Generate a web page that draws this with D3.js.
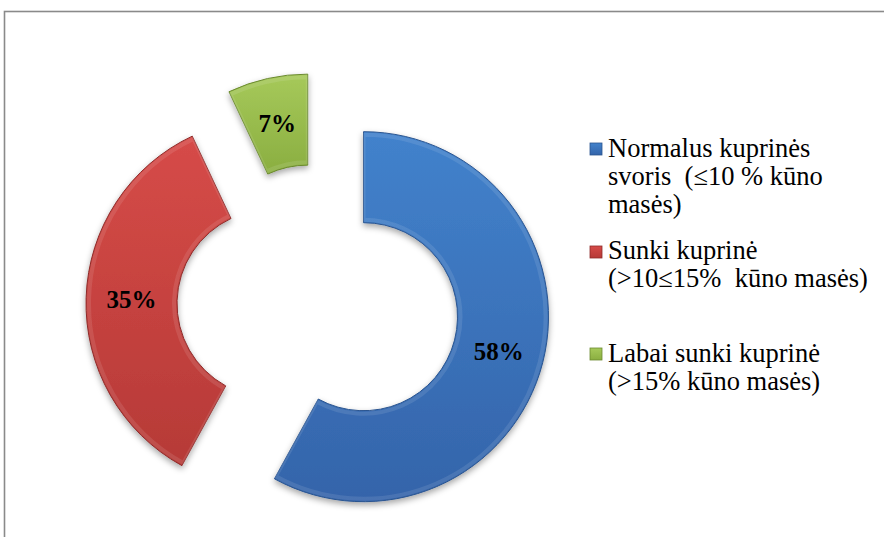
<!DOCTYPE html>
<html>
<head>
<meta charset="utf-8">
<script src="https://cdn.jsdelivr.net/npm/d3@7"></script>
<style>
  body { margin: 0; background: #fff; }
</style>
</head>
<body>
<div id="chart"></div>
<script>
var W = 884, H = 537;
var serif = "'Liberation Serif', 'Times New Roman', Times, serif";

// data
let categories = ["Normalus kuprinės svoris", "Sunki kuprinė", "Labai sunki kuprinė"];
let values = [58, 35, 7];
let valueLabels = ["58%", "35%", "7%"];
let legendLines = [
    ["Normalus kuprinės", "svoris  (≤10 % kūno", "masės)"],
    ["Sunki kuprinė", "(>10≤15%  kūno masės)"],
    ["Labai sunki kuprinė", "(>15% kūno masės)"]
];
let colorsTop = ["#4282cc", "#d64b48", "#a6c95a"];
let colorsBottom = ["#3464aa", "#b63a37", "#8aae40"];
let edgeColors = ["#2b5590", "#8e2c2a", "#6b8a30"];

var cx = 318, cy = 305, outerR = 185, innerR = 94, explode = 47;

let svg = d3.select("#chart").append("svg")
    .attr("width", W)
    .attr("height", H)

// chart border (right and bottom run off the picture)
svg.append("rect")
    .attr("x", 4.5).attr("y", 11.5)
    .attr("width", W + 20).attr("height", H + 20)
    .attr("fill", "none")
    .attr("stroke", "#8a8a8a")
    .attr("stroke-width", 1.6)

var defs = svg.append("defs")

colorsTop.forEach(function(c, i) {
    var g = defs.append("linearGradient")
        .attr("id", "grad" + i)
        .attr("x1", 0).attr("y1", 0).attr("x2", 0).attr("y2", 1)
    g.append("stop").attr("offset", "0%").attr("stop-color", c)
    g.append("stop").attr("offset", "100%").attr("stop-color", colorsBottom[i])
})

var shadow = defs.append("filter")
    .attr("id", "shadow")
    .attr("x", "-20%").attr("y", "-20%").attr("width", "140%").attr("height", "140%")
shadow.append("feDropShadow")
    .attr("dx", 0).attr("dy", 3)
    .attr("stdDeviation", 3)
    .attr("flood-color", "#000")
    .attr("flood-opacity", 0.35)

var pie = d3.pie().sort(null).value(d => d)
var arcs = pie(values)

var arc = d3.arc().innerRadius(innerR).outerRadius(outerR)
var bevel = d3.arc().innerRadius(innerR + 3).outerRadius(outerR - 3)

function offset(d) {
    var mid = (d.startAngle + d.endAngle) / 2
    return [Math.sin(mid) * explode, -Math.cos(mid) * explode]
}

var slices = svg.append("g")
    .attr("transform", "translate(" + cx + "," + cy + ")")
    .selectAll("g")
    .data(arcs)
    .enter()
    .append("g")
    .attr("transform", d => "translate(" + offset(d) + ")")

slices.append("path")
    .attr("d", arc)
    .attr("fill", (d, i) => "url(#grad" + i + ")")
    .attr("stroke", (d, i) => edgeColors[i])
    .attr("stroke-width", 1)
    .attr("filter", "url(#shadow)")

// soft highlight rim to hint at the bevel
slices.append("path")
    .attr("d", bevel)
    .attr("fill", "none")
    .attr("stroke", "#fff")
    .attr("stroke-opacity", 0.1)
    .attr("stroke-width", 4)

slices.append("text")
    .attr("transform", d => "translate(" + arc.centroid(d) + ")")
    .attr("text-anchor", "middle")
    .attr("dy", "0.35em")
    .style("font-family", serif)
    .style("font-size", "25px")
    .style("font-weight", "bold")
    .attr("fill", "#000")
    .text((d, i) => valueLabels[i])

// legend
var legendTop = [143, 246, 348]
var lineTop = [157, 259, 362]
var lineH = 28

var legend = svg.append("g")
    .selectAll("g")
    .data(categories)
    .enter()
    .append("g")

legend.append("rect")
    .attr("x", 590)
    .attr("y", (d, i) => legendTop[i])
    .attr("width", 12)
    .attr("height", 12)
    .attr("fill", (d, i) => "url(#grad" + i + ")")
    .attr("stroke", (d, i) => edgeColors[i])
    .attr("stroke-width", 0.8)

legend.each(function(d, i) {
    d3.select(this).selectAll("text")
        .data(legendLines[i])
        .enter()
        .append("text")
        .attr("x", 608)
        .attr("y", (t, j) => lineTop[i] + j * lineH)
        .style("white-space", "pre")
        .style("font-family", serif)
        .style("font-size", "26.5px")
        .attr("fill", "#000")
        .text(t => t)
})
</script>
</body>
</html>
